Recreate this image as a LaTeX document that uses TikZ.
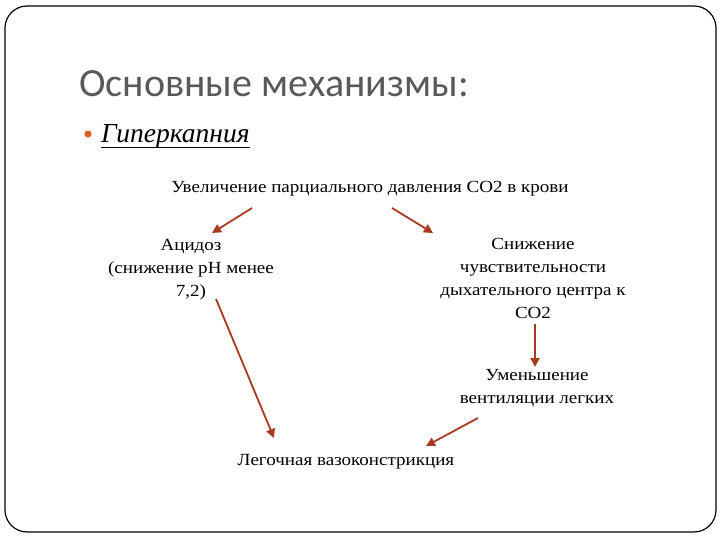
\documentclass[tikz,border=0pt]{standalone}
\usepackage{fontspec}
\setmainfont{Liberation Serif}
\newfontfamily\titlefont{Carlito}
\newfontfamily\bodyfont[FakeStretch=1.12]{Liberation Serif}
\usetikzlibrary{arrows.meta}
\definecolor{arrowred}{RGB}{168,58,32}
\definecolor{titlegray}{RGB}{89,89,89}
\definecolor{bulletorange}{RGB}{226,95,40}
\tikzset{
  arr/.style={draw=arrowred, line width=1.8pt, -{Triangle[width=9pt,length=9pt]}},
  body/.style={font=\bodyfont\fontsize{17}{22.7}\selectfont, align=center, inner sep=0pt, anchor=base},
}
\begin{document}
\begin{tikzpicture}[x=1pt,y=-1pt]
\useasboundingbox (0,0) rectangle (720,540);
\draw[line width=1.2pt, rounded corners=22pt] (5,6) rectangle (716,532);
\node[anchor=base west, inner sep=0pt, text=titlegray, font=\titlefont\fontsize{40}{45}\selectfont] (title) at (79,97) {Основные механизмы:};
\fill[bulletorange] (88,134) circle (3.6pt);
\node[anchor=base west, inner sep=0pt, font=\itshape\fontsize{27.5}{32}\selectfont] (hyp) at (101,143) {Гиперкапния};
\draw[line width=1.6pt] ([yshift=-4.5pt]hyp.base west) -- ([yshift=-4.5pt]hyp.base east);
\node[body] (top) at (370,193) {Увеличение парциального давления СО2 в крови};
\node[body] (acid) at (191,296) {Ацидоз\\(снижение pH менее\\7,2)};
\node[body] (sens) at (533,318) {Снижение\\чувствительности\\дыхательного центра к\\СО2};
\node[body] (vent) at (537,403) {Уменьшение\\вентиляции легких};
\node[body] (vaso) at (346,465) {Легочная вазоконстрикция};
\coordinate (a1s) at (252,208); \coordinate (a1e) at (212,233);
\coordinate (a2s) at (392,208); \coordinate (a2e) at (433,233);
\coordinate (a3s) at (216,299); \coordinate (a3e) at (274,438);
\coordinate (a4s) at (535,324); \coordinate (a4e) at (535,367);
\coordinate (a5s) at (478,418); \coordinate (a5e) at (426,446);
\draw[arr] (a1s) -- (a1e);
\draw[arr] (a2s) -- (a2e);
\draw[arr] (a3s) -- (a3e);
\draw[arr] (a4s) -- (a4e);
\draw[arr] (a5s) -- (a5e);
\end{tikzpicture}
\end{document}
